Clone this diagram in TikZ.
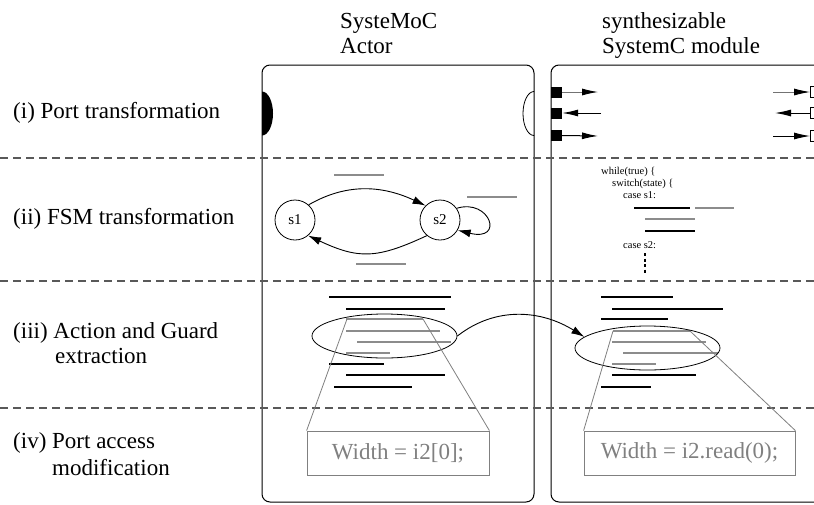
\documentclass[tikz,border=0pt]{standalone}
\usepackage{fontspec}
\setmainfont{Liberation Serif}
\usetikzlibrary{arrows.meta,shapes.geometric}
\begin{document}
\begin{tikzpicture}[x=1pt,y=1pt,
  lbl/.style={anchor=base west,inner sep=0pt,font=\fontsize{23}{26}\selectfont},
  codetxt/.style={anchor=base west,inner sep=0pt,font=\fontsize{10.5}{12}\selectfont},
  sep/.style={draw=black!65,line width=1.1pt,dash pattern=on 8pt off 5pt},
  frame/.style={draw=black,line width=1pt,rounded corners=8pt},
  state/.style={circle,draw,line width=0.8pt,minimum size=40pt,inner sep=0pt,font=\fontsize{15}{18}\selectfont},
  tr/.style={line width=0.9pt,-{Latex[length=13pt,width=8pt]}},
  pa/.style={line width=1pt,-{Latex[length=16pt,width=7pt,color=black]}},
  bk/.style={line width=1.8pt},
  gr/.style={draw=black!45,line width=1.8pt},
  sel/.style={ellipse,draw,line width=0.8pt,minimum width=145pt,minimum height=44pt,inner sep=0pt},
  zoomline/.style={draw=black!50,line width=0.8pt},
  codebox/.style={draw=black!50,line width=0.8pt,text=black!50,minimum height=44pt,inner sep=0pt,font=\fontsize{23}{26}\selectfont},
  port/.style={fill=black,minimum size=11pt,inner sep=0pt},
  oport/.style={draw,line width=0.8pt,minimum size=11pt,inner sep=0pt}]
\useasboundingbox (0,0) rectangle (814,-504);
\clip (0,0) rectangle (814,-504);
\fill[white] (0,0) rectangle (814,-504);

% headers
\node[lbl] (h1a) at (340,-28) {SysteMoC};
\node[lbl] (h1b) at (340,-53) {Actor};
\node[lbl] (h2a) at (602,-28) {synthesizable};
\node[lbl] (h2b) at (602,-53) {SystemC module};

% row labels
\node[lbl] (r1) at (13,-118) {(i) Port transformation};
\node[lbl] (r2) at (13,-224) {(ii) FSM transformation};
\node[lbl] (r3) at (13,-338) {(iii) Action and Guard};
\node[lbl] (r3b) at (55,-363) {extraction};
\node[lbl] (r4) at (13,-448) {(iv) Port access};
\node[lbl] (r4b) at (52,-475) {modification};

% frames
\draw[frame] (262,-65) rectangle (534,-502);
\draw[frame] (551,-65) rectangle (850,-502);

% actor ports
\begin{scope}
  \clip (262,-80) rectangle (290,-150);
  \fill (262,-113.5) ellipse [x radius=11pt, y radius=22pt];
\end{scope}
\begin{scope}
  \clip (500,-80) rectangle (534,-150);
  \draw[line width=0.8pt] (534,-113.5) ellipse [x radius=11pt, y radius=22pt];
\end{scope}

% module ports
\node[port] (p1) at (556.5,-92) {};
\node[port] (p2) at (556.5,-113) {};
\node[port] (p3) at (556.5,-135.5) {};
\coordinate (q1) at (598,-92);
\coordinate (q2) at (601,-113);
\coordinate (q3) at (598,-136);
\draw[pa,draw=black!55,line width=0.9pt] (p1.east) -- (q1);
\draw[pa] (q2) -- (p2.east);
\draw[pa] (p3.east) -- (q3);

\node[oport] (o1) at (816,-92) {};
\node[oport] (o2) at (816,-113) {};
\node[oport] (o3) at (816,-136) {};
\coordinate (u1) at (773,-92);
\coordinate (u2) at (775,-113);
\coordinate (u3) at (773,-136);
\draw[pa,draw=black!55,line width=0.9pt] (u1) -- (o1.west);
\draw[pa] (o2.west) -- (u2);
\draw[pa] (u3) -- (o3.west);

% separators
\draw[sep] (0,-158) -- (814,-158);
\draw[sep] (0,-281) -- (814,-281);
\draw[sep] (0,-408) -- (814,-408);

% FSM
\node[state] (s1) at (295,-220) {s1};
\node[state] (s2) at (440,-220) {s2};
\draw[tr] (s1.48) to[out=30,in=155] (s2.135);
\draw[tr] (s2.-130) to[out=-155,in=-25,looseness=1.2] (s1.-50);
\draw[tr] (s2.35) .. controls (490,-198) and (505,-242) .. (s2.-30);
\draw[gr] (334,-175) -- (384,-175);
\draw[gr] (467,-197) -- (517,-197);
\draw[gr] (356,-264) -- (406,-264);

% generated code
\node[codetxt] (c1) at (601,-174) {while(true) \{};
\node[codetxt] (c2) at (612,-186) {switch(state) \{};
\node[codetxt] (c3) at (623,-198) {case s1:};
\node[codetxt] (c4) at (623,-248) {case s2:};
\draw[bk] (634,-208) -- (690,-208);
\draw[gr] (695,-208) -- (734,-208);
\draw[gr] (645,-219) -- (695,-219);
\draw[bk] (645,-231) -- (695,-231);
\draw[line width=2.3pt,dash pattern=on 3pt off 2.5pt] (645,-253) -- (645,-273);

% action / guard lines (actor)
\draw[bk] (329,-297) -- (451,-297);
\draw[bk,line width=2.2pt] (346,-309) -- (445,-309);
\draw[gr] (346,-319) -- (423,-319);
\draw[gr] (346,-331) -- (440,-331);
\draw[gr] (357,-342) -- (451,-342);
\draw[gr] (346,-353) -- (390,-353);
\draw[bk] (329,-364) -- (384,-364);
\draw[bk] (346,-375) -- (445,-375);
\draw[bk] (334,-387) -- (412,-387);

% action / guard lines (module)
\draw[bk] (601,-297) -- (673,-297);
\draw[bk,line width=2.2pt] (612,-309) -- (723,-309);
\draw[bk] (601,-319) -- (668,-319);
\draw[gr] (613,-331) -- (690,-331);
\draw[gr] (612,-342) -- (706,-342);
\draw[gr] (623,-353) -- (718,-353);
\draw[gr] (612,-364) -- (656,-364);
\draw[bk] (612,-375) -- (696,-375);
\draw[bk] (601,-387) -- (651,-387);

% selections
\node[sel] (e1) at (384.5,-336) {};
\node[sel] (e2) at (647.5,-348) {};
\draw[tr] (e1.east) to[out=38,in=148] (e2.170);

% zoom boxes
\node[codebox,minimum width=182pt] (b1) at (398,-453) {Width = i2[0];};
\node[codebox,minimum width=211pt] (b2) at (689.5,-453) {Width = i2.read(0);};
\coordinate (t1l) at (347,-319);
\coordinate (t1r) at (423,-319);
\coordinate (t2l) at (613,-331);
\coordinate (t2r) at (690,-331);
\draw[zoomline] (t1l) -- (b1.north west);
\draw[zoomline] (t1r) -- (b1.north east);
\draw[zoomline] (t2l) -- (b2.north west);
\draw[zoomline] (t2r) -- (b2.north east);
\end{tikzpicture}
\end{document}
